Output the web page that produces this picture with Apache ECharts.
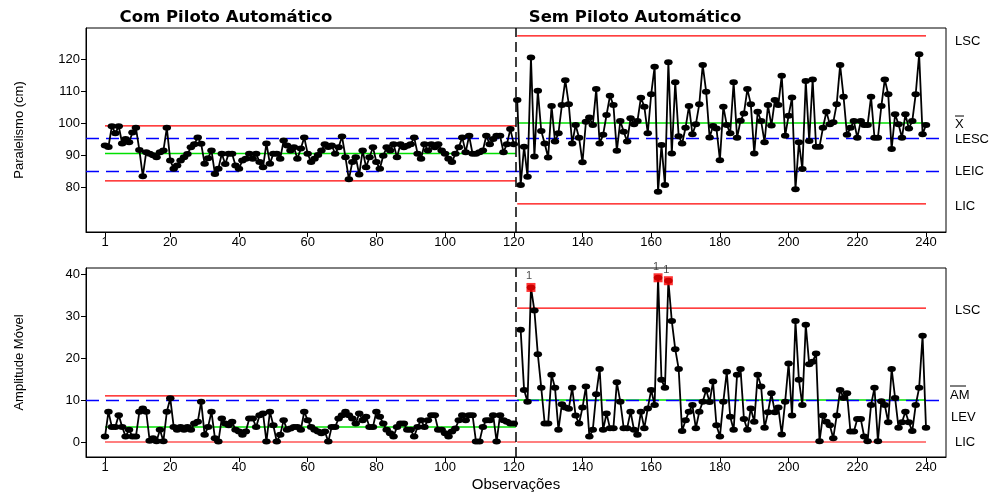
<!DOCTYPE html>
<html><head><meta charset="utf-8">
<script src="https://cdn.jsdelivr.net/npm/echarts@6/dist/echarts.min.js"></script>
<style>html,body{margin:0;padding:0;background:#fff}#c{width:995px;height:495px}</style>
</head><body><div id="c"></div>
<script>
// ---- data ----
const paralelismoCom = [
93,92.5,99,96.8,99,93.6,95,94,97,98.5,
91.6,83.4,90.9,90.4,89.9,89.3,90.9,91.4,98.5,88.3,
85.7,86.7,88.3,89.3,90.3,92.4,93.4,95.5,93.5,87.3,
89,91.4,84.1,85.7,90.4,87.2,90.4,90.4,86.7,85.7,
88.3,88.8,90.4,88.8,90.4,87.8,86.2,93.6,87.3,90.4,
90.4,88.8,94.5,93,91.4,92.4,88.8,92,95.5,90.4,
87.8,88.8,90,91.4,93.4,92.5,93,90.4,92.4,95.8,
89.3,82.4,87.8,89.3,83.9,91.4,86.2,89.3,92.4,87.8,
85.7,89.8,92.4,91.4,93.4,89.3,93.4,92.4,92.9,93.4,
95.5,90.4,88.8,93.4,91.4,93.4,92.4,93.4,91.4,90.4,
88.8,87.8,90.4,92.4,95.5,90.9,96,90.4,90.4,90.9,
91.4,96,93.4,95,96,96,90.9,93.4,98.1,93.4];
const paralelismoSem = [
107.2,80.6,92.6,83.2,120.5,89.5,110.1,97.5,93.6,89.2,
105.3,94.2,96.8,105.6,113.4,105.9,93.6,99.4,95.4,87.7,
100.4,101.7,99.4,110.6,93.6,96.3,102.5,108.5,105.6,91.3,
100.6,97.3,94.2,101.5,99.6,100.6,107.9,105.1,96.8,109,
117.6,78.5,93.1,80.6,119,90.5,112.7,95.9,93.6,98.5,
105.3,96.5,99.6,105.9,118.1,109.8,95.5,99.1,98.3,88.4,
105.1,99.4,96.8,112.7,95.4,100.7,103,110.6,105.9,90.5,
103.5,100.6,94,105.6,99.2,107.2,105.6,114.8,96,102.3,
108,79.3,94,85.6,113.1,94.4,113.6,92.6,92.6,98.5,
103.5,99.6,100.2,105.9,118.1,108.2,96.3,98.5,100.6,95.4,
100.6,99.4,99.4,108.2,95.4,95.4,105.3,113.6,109,91.9,
102.7,99.6,95.4,102.7,98.3,100.6,109,121.5,96.5,99.4];
const amplitudeCom = [
1.3,7.2,3.6,3.6,6.4,3.6,1.3,2.9,1.3,1.3,
7.2,8,7.2,0.3,0.9,0.2,2.9,0.2,7.2,10.4,
3.6,2.9,3.6,2.9,3.6,2.9,4.4,4.8,9.6,
1.7,3.6,7.2,0.9,0.1,5.6,4.4,4,4.8,2.9,2.5,1.7,2.5,5.6,5.6,3.6,6.4,6.8,0.1,
7.2,4,0.1,1.7,5.2,2.9,3.2,3.6,3.6,2.9,
7.2,5.2,3.6,2.9,2.5,2.1,2.5,0.1,3.6,
3.6,5.6,6.4,7.2,6.4,5.6,4.4,6.8,5.2,6,
3.6,3.6,7.2,6,4.4,2.9,2.1,1.3,3.6,4.4,
4.4,2.9,2.9,1.3,3.6,5.2,3.6,5.2,6.4,6.4,
2.9,2.9,2.1,1.3,2.5,3.2,5.2,6.4,5.2,
6.4,6.4,0.1,0.1,3.6,5.2,5.2,6.4,0.1,
6.4,5.2,4.8,4.4,4.4];
const amplitudeSem = [null,
26.7,12.4,9.6,36.8,31.3,20.9,12.9,4.4,4.4,16,
12.9,2.9,9,8.2,7.9,12.9,6.3,4.4,8.2,13.2,
1.3,2.9,11.4,17.4,2.9,6.8,3.3,3.3,14.2,9.6,
3.3,3.3,7.2,2.9,1.7,7.2,3.3,8,12.4,8.8,
39.1,14.8,12.9,38.4,28.8,22.1,17.4,2.6,5.2,7.2,
8.8,3.3,7.2,9.6,12.4,9.5,14.4,4,1.3,9.6,
16.7,
6,2.9,16,17.4,5.5,2.9,8,4.8,16,13.2,
3.4,7.1,11.6,7.1,8.2,1.8,9.6,18.7,6.3,28.8,
14.8,8.8,27.9,18.5,19.1,21.1,0.2,6.3,4.8,4,
0.9,6.3,12.4,10.5,11.6,2.5,2.5,5.5,5.5,1.3,
0.2,8.8,12.9,0.2,9.7,8.8,4.7,17.4,10.5,3.4,
4.7,7.2,4.7,2.6,8.8,12.9,25.3,3.4];
const xTicks = [1,20,40,60,80,100,120,140,160,180,200,220,240];
const yTicksTop = [80,90,100,110,120];
const yTicksBottom = [0,10,20,30,40];
const phaseStart = [1,121];
const phaseEnd = [120.6,240];
const phaseChange = 120.5;
const lscParalelismo = [99.1,127.2];
const centroParalelismo = [90.5,100];
const licParalelismo = [81.9,74.7];
const especParalelismo = [95.3,85];
const lscAmplitude = [11,31.9];
const centroAmplitude = [3.6,10];
const licAmplitude = [0,0];
const especAmplitude = [10];
const panelTitles = ['Com Piloto Automático','Sem Piloto Automático'];

// ---- chart ----
const FONT = 'Liberation Sans, Arial, sans-serif';
const chart = echarts.init(document.getElementById('c'));
const toPairs = (arr, start) => arr.map((v,i)=>[start+i, v]);

function segSeries(g, p, value, color, width){
  return {type:'line', xAxisIndex:g, yAxisIndex:g, silent:true, symbol:'none', z:2,
    data:[[phaseStart[p], value],[phaseEnd[p], value]],
    lineStyle:{color:color, width:width}};
}
function dataSeries(g, arr, start){
  return {type:'line', xAxisIndex:g, yAxisIndex:g, data:toPairs(arr,start),
    symbol:'circle', symbolSize:[8.5,6], showAllSymbol:true, z:5, silent:true,
    itemStyle:{color:'#000'}, lineStyle:{color:'#000', width:1.8}};
}
function refLines(g, ys){
  return {type:'line', xAxisIndex:g, yAxisIndex:g, data:[], z:3, silent:true,
    markLine:{symbol:'none', silent:true, label:{show:false}, animation:false,
      data:[...ys.map(y=>({yAxis:y, lineStyle:{color:'#0000ff', type:[13,7], width:1.3}})),
            {xAxis:phaseChange, lineStyle:{color:'#000', type:[10,5], width:1.5}}]}};
}
const outliers = amplitudeSem.map((v,i)=>[phaseStart[1]+i, v]).filter(d=>d[1]!==null && d[1]>lscAmplitude[1]);

function xAxis(g, name){
  return {type:'value', gridIndex:g, min:-4.53, max:245.82,
    axisLine:{show:true, onZero:false, lineStyle:{color:'#000', width:1}},
    axisTick:{show:true, length:5, customValues:xTicks, lineStyle:{color:'#000'}},
    axisLabel:{customValues:xTicks, color:'#000', fontSize:13, fontFamily:FONT, margin:4},
    splitLine:{show:false},
    name:name||'', nameLocation:'middle', nameGap:20,
    nameTextStyle:{color:'#000', fontSize:15, fontFamily:FONT}};
}
function yAxis(g, min, max, ticks, name){
  return {type:'value', gridIndex:g, min:min, max:max,
    axisLine:{show:true, onZero:false, lineStyle:{color:'#000'}},
    axisTick:{show:true, length:5, customValues:ticks, lineStyle:{color:'#000'}},
    axisLabel:{customValues:ticks, color:'#000', fontSize:13, fontFamily:FONT, margin:6},
    splitLine:{show:false},
    name:name, nameLocation:'middle', nameGap:60,
    nameTextStyle:{color:'#000', fontSize:13, fontFamily:FONT}};
}

const series = [
  refLines(0, especParalelismo),
  segSeries(0,0,lscParalelismo[0],'#ff0000',1.2), segSeries(0,0,licParalelismo[0],'#ff0000',1.2),
  segSeries(0,0,centroParalelismo[0],'#00e000',1.5),
  segSeries(0,1,lscParalelismo[1],'#ff0000',1.2), segSeries(0,1,licParalelismo[1],'#ff0000',1.2),
  segSeries(0,1,centroParalelismo[1],'#00e000',1.5),
  dataSeries(0, paralelismoCom, phaseStart[0]), dataSeries(0, paralelismoSem, phaseStart[1]),
  refLines(1, especAmplitude),
  segSeries(1,0,lscAmplitude[0],'#ff0000',1.2), segSeries(1,0,licAmplitude[0],'#ff0000',1.2),
  segSeries(1,0,centroAmplitude[0],'#00e000',1.5),
  segSeries(1,1,lscAmplitude[1],'#ff0000',1.2), segSeries(1,1,licAmplitude[1],'#ff0000',1.2),
  segSeries(1,1,centroAmplitude[1],'#00e000',1.5),
  dataSeries(1, amplitudeCom, phaseStart[0]), dataSeries(1, amplitudeSem, phaseStart[1]),
  {type:'scatter', xAxisIndex:1, yAxisIndex:1, data:outliers, symbol:'rect', symbolSize:9, z:8, silent:true,
   itemStyle:{color:'#ff0000'},
   label:{show:true, formatter:'1', position:'top', distance:1, offset:[-2,0], fontSize:11, color:'#222', fontFamily:FONT}}
];

function txt(x,y,t,opt){return Object.assign({type:'text', x:x, y:y, silent:true,
  style:Object.assign({text:t, fill:'#000', font:'13px '+FONT, textVerticalAlign:'middle'}, opt||{})});}
function bar(x1,x2,y){return {type:'line', silent:true, shape:{x1:x1,y1:y,x2:x2,y2:y}, style:{stroke:'#000', lineWidth:1}};}

chart.setOption({
  animation:false,
  backgroundColor:'#fff',
  grid:[
    {left:86, top:28, width:860, height:204, show:true, borderColor:'#000', borderWidth:1},
    {left:86, top:268, width:860, height:189, show:true, borderColor:'#000', borderWidth:1}
  ],
  xAxis:[xAxis(0), xAxis(1,'Observações')],
  yAxis:[yAxis(0,65.94,129.69,yTicksTop,'Paralelismo (cm)'), yAxis(1,-3.57,41.43,yTicksBottom,'Amplitude Móvel')],
  series:series,
  graphic:[
    txt(226,18,panelTitles[0],{font:'bold 16.5px DejaVu Sans, sans-serif', textAlign:'center'}),
    txt(635,18,panelTitles[1],{font:'bold 16.5px DejaVu Sans, sans-serif', textAlign:'center'}),
    txt(955,41,'LSC'), txt(955,124,'X'), bar(955,964,116), txt(955,139,'LESC'), txt(955,171,'LEIC'), txt(955,206,'LIC'),
    txt(955,310,'LSC'), txt(950,395,'AM'), bar(950,966,386), txt(951,417,'LEV'), txt(955,442,'LIC')
  ]
});
</script></body></html>
